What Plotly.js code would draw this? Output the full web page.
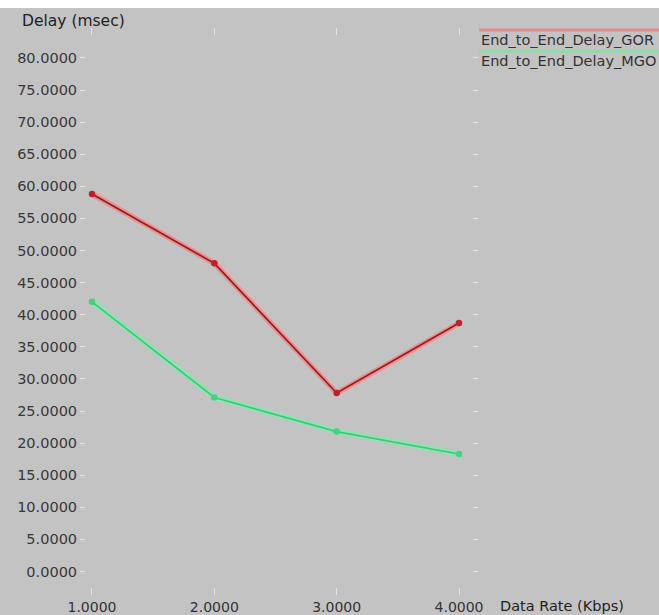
<!DOCTYPE html>
<html>
<head>
<meta charset="utf-8">
<script src="https://cdn.plot.ly/plotly-3.0.1.min.js"></script>
<style>
  html, body { margin: 0; padding: 0; background: #ffffff; width: 659px; height: 615px; overflow: hidden; }
  #chart { position: absolute; left: 0; top: 8px; width: 659px; height: 607px; }
</style>
</head>
<body>
<div id="chart"></div>
<script>
// Data rate (Kbps) on the x axis
const dataRates = [1, 2, 3, 4];
// End-to-end delay (msec) per routing scheme
const delayGOR = [58.8, 48.0, 27.8, 38.7];
const delayMGO = [42.0, 27.1, 21.8, 18.3];
// Axis ticks
const yTicks = [0, 5, 10, 15, 20, 25, 30, 35, 40, 45, 50, 55, 60, 65, 70, 75, 80];
const seriesNames = ['End_to_End_Delay_GOR', 'End_to_End_Delay_MGO'];

const bg = '#c3c3c3';
const fontFam = 'DejaVu Sans, Verdana, sans-serif';

// Each series is drawn as a soft halo underneath a thin core line
function series(y, halo, core, dot) {
  return [
    { x: dataRates, y: y, mode: 'lines', line: { color: halo, width: 5.5 }, hoverinfo: 'skip', showlegend: false },
    { x: dataRates, y: y, mode: 'lines+markers', line: { color: core, width: 1.7 },
      marker: { color: dot, size: 6.5 }, showlegend: false }
  ];
}

const traces = [
  ...series(delayGOR, 'rgba(250,128,128,0.8)', '#8e1f26', '#c0202c'),
  ...series(delayMGO, 'rgba(125,238,170,0.8)', '#42c67e', '#44d283')
];

// Plot-area pixel geometry inside the 659x607 div
const L = 86, R = 472, T = 28, B = 579;
const px = x => (x - L) / (R - L);
const py = y => (B - y) / (B - T);

const layout = {
  width: 659, height: 607,
  margin: { l: L, r: 659 - R, t: T, b: 607 - B, pad: 0 },
  paper_bgcolor: bg, plot_bgcolor: bg,
  showlegend: false,
  font: { family: fontFam, color: '#333333', size: 14 },
  xaxis: {
    range: [0.951, 4.106],
    tickvals: dataRates, tickformat: '.4f',
    ticks: 'outside', ticklen: 7, tickwidth: 1, tickcolor: '#e4e4e4',
    mirror: 'ticks', showline: false, showgrid: false, zeroline: false,
    tickfont: { family: fontFam, size: 14, color: '#333333' }
  },
  yaxis: {
    range: [-2.41, 83.41],
    tickvals: yTicks, tickformat: '.4f',
    ticks: 'outside', ticklen: 5, tickwidth: 1, tickcolor: '#e4e4e4',
    mirror: 'ticks', showline: false, showgrid: false, zeroline: false,
    tickfont: { family: fontFam, size: 14.5, color: '#383838' }
  },
  annotations: [
    { text: 'Delay (msec)', xref: 'paper', yref: 'paper', x: px(20), y: py(13),
      xanchor: 'left', yanchor: 'middle', showarrow: false,
      font: { family: fontFam, size: 15.5, color: '#222222' } },
    { text: 'Data Rate (Kbps)', xref: 'paper', yref: 'paper', x: px(498), y: py(598),
      xanchor: 'left', yanchor: 'middle', showarrow: false,
      font: { family: fontFam, size: 14.5, color: '#222222' } },
    { text: seriesNames[0], xref: 'paper', yref: 'paper', x: px(479), y: py(32),
      xanchor: 'left', yanchor: 'middle', showarrow: false,
      font: { family: fontFam, size: 14.5, color: '#333333' } },
    { text: seriesNames[1], xref: 'paper', yref: 'paper', x: px(479), y: py(53),
      xanchor: 'left', yanchor: 'middle', showarrow: false,
      font: { family: fontFam, size: 14.5, color: '#333333' } }
  ],
  shapes: [
    { type: 'line', xref: 'paper', yref: 'paper', x0: px(479), x1: px(700), y0: py(22), y1: py(22),
      line: { color: 'rgba(235,130,130,0.85)', width: 3 } },
    { type: 'line', xref: 'paper', yref: 'paper', x0: px(479), x1: px(700), y0: py(43), y1: py(43),
      line: { color: 'rgba(130,225,160,0.85)', width: 3 } }
  ]
};

Plotly.newPlot('chart', traces, layout, { displayModeBar: false, staticPlot: true });
</script>
</body>
</html>
